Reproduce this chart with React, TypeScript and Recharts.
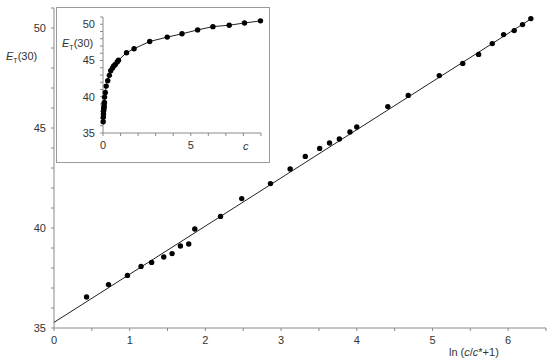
import { ScatterChart, Scatter, XAxis, YAxis } from "recharts";

// ln(c/c* + 1) for each measured point
const LN_X = [
  0.43, 0.72, 0.97, 1.15, 1.29, 1.45, 1.56, 1.67, 1.78, 1.86, 2.2, 2.48, 2.86,
  3.12, 3.32, 3.51, 3.64, 3.77, 3.91, 4.0, 4.41, 4.68, 5.09, 5.4, 5.61, 5.79,
  5.94, 6.08, 6.19, 6.3,
];
// concentration c, as shown on the inset
const C_VALUES = [
  0.009, 0.017, 0.027, 0.036, 0.043, 0.054, 0.062, 0.071, 0.081, 0.09, 0.13,
  0.18, 0.27, 0.36, 0.44, 0.54, 0.61, 0.7, 0.81, 0.88, 1.34, 1.77, 2.66, 3.66,
  4.5, 5.39, 6.26, 7.19, 8.06, 8.97,
];
const ET30 = [
  36.55, 37.17, 37.63, 38.08, 38.28, 38.55, 38.72, 39.1, 39.2, 39.95, 40.58,
  41.47, 42.22, 42.95, 43.58, 43.98, 44.25, 44.45, 44.8, 45.05, 46.07, 46.63,
  47.62, 48.23, 48.68, 49.22, 49.67, 49.87, 50.17, 50.47,
];
// linear fit read at its two ends
const FIT_X = [0, 6.32];
const FIT_Y = [35.28, 50.5];

const MAIN_X_TICKS = [0, 0.5, 1, 1.5, 2, 2.5, 3, 3.5, 4, 4.5, 5, 5.5, 6, 6.5];
const MAIN_Y_TICKS = [35, 36, 37, 38, 39, 40, 41, 42, 43, 44, 45, 46, 47, 48, 49, 50, 51];
const INSET_X_TICKS = [0, 1, 2, 3, 4, 5, 6, 7, 8, 9];
const INSET_Y_TICKS = MAIN_Y_TICKS;

const mainPoints = LN_X.map((x, i) => ({ x, y: ET30[i] }));
const insetPoints = C_VALUES.map((x, i) => ({ x, y: ET30[i] }));
const fitLine = FIT_X.map((x, i) => ({ x, y: FIT_Y[i] }));

const FONT = '"Liberation Sans", Arial, sans-serif';
const AXIS = "#8a8a8a";
const TEXT = "#333";
const tick = { fill: TEXT, fontSize: 11, fontFamily: FONT };

const Dot = (p: any) => <circle cx={p.cx} cy={p.cy} r={2.7} fill="#000" />;
const NoDot = () => <g />;

function ETLabel({ left, top }: { left: number; top: number }) {
  return (
    <div
      style={{
        position: "absolute",
        left,
        top,
        fontFamily: FONT,
        fontSize: 11,
        color: TEXT,
        whiteSpace: "nowrap",
        lineHeight: "12px",
      }}
    >
      <i>E</i>
      <sub style={{ fontSize: 7 }}>T</sub>(30)
    </div>
  );
}

export default function App() {
  return (
    <div style={{ position: "absolute", left: 0, top: 0, width: 550, height: 363, background: "#fff" }}>
      <ScatterChart width={550} height={363} margin={{ top: 8, right: 4, left: 0, bottom: 0 }}>
        <XAxis
          type="number"
          dataKey="x"
          domain={[0, 6.5]}
          ticks={MAIN_X_TICKS}
          interval={0}
          tickFormatter={(v) => (Number.isInteger(v) ? String(v) : "")}
          tick={tick}
          tickSize={3}
          tickMargin={5}
          height={35}
          stroke={AXIS}
        />
        <YAxis
          type="number"
          dataKey="y"
          domain={[35, 51]}
          ticks={MAIN_Y_TICKS}
          interval={0}
          tickFormatter={(v) => (v % 5 === 0 ? String(v) : "")}
          tick={tick}
          tickSize={3}
          tickMargin={5}
          width={54}
          stroke={AXIS}
        />
        <Scatter
          data={fitLine}
          line={{ stroke: "#222", strokeWidth: 1 }}
          lineType="joint"
          shape={NoDot}
          isAnimationActive={false}
        />
        <Scatter data={mainPoints} shape={Dot} isAnimationActive={false} />
      </ScatterChart>

      <ETLabel left={6} top={50} />
      <div
        style={{
          position: "absolute",
          left: 449,
          top: 346,
          fontFamily: FONT,
          fontSize: 11,
          color: TEXT,
          whiteSpace: "nowrap",
        }}
      >
        ln (<i>c</i>/<i>c</i>*+1)
      </div>

      <div
        style={{
          position: "absolute",
          left: 56,
          top: 7,
          width: 212,
          height: 154,
          border: "1px solid #9a9a9a",
          background: "#fff",
        }}
      >
        <ScatterChart width={212} height={154} margin={{ top: 9, right: 8, left: 0, bottom: 0 }}>
          <XAxis
            type="number"
            dataKey="x"
            domain={[0, 9]}
            ticks={INSET_X_TICKS}
            interval={0}
            tickFormatter={(v) => (v % 5 === 0 ? String(v) : "")}
            tick={tick}
            tickSize={3}
            tickMargin={5}
            height={29}
            stroke={AXIS}
          />
          <YAxis
            type="number"
            dataKey="y"
            domain={[35, 51]}
            ticks={INSET_Y_TICKS}
            interval={0}
            tickFormatter={(v) => (v % 5 === 0 ? String(v) : "")}
            tick={tick}
            tickSize={3}
            tickMargin={5}
            width={46}
            stroke={AXIS}
          />
          <Scatter
            data={insetPoints}
            line={{ stroke: "#222", strokeWidth: 1 }}
            lineType="joint"
            shape={Dot}
            isAnimationActive={false}
          />
        </ScatterChart>
        <ETLabel left={5} top={29} />
        <div
          style={{
            position: "absolute",
            left: 186,
            top: 132,
            fontFamily: FONT,
            fontSize: 11,
            fontStyle: "italic",
            color: TEXT,
          }}
        >
          c
        </div>
      </div>
    </div>
  );
}
